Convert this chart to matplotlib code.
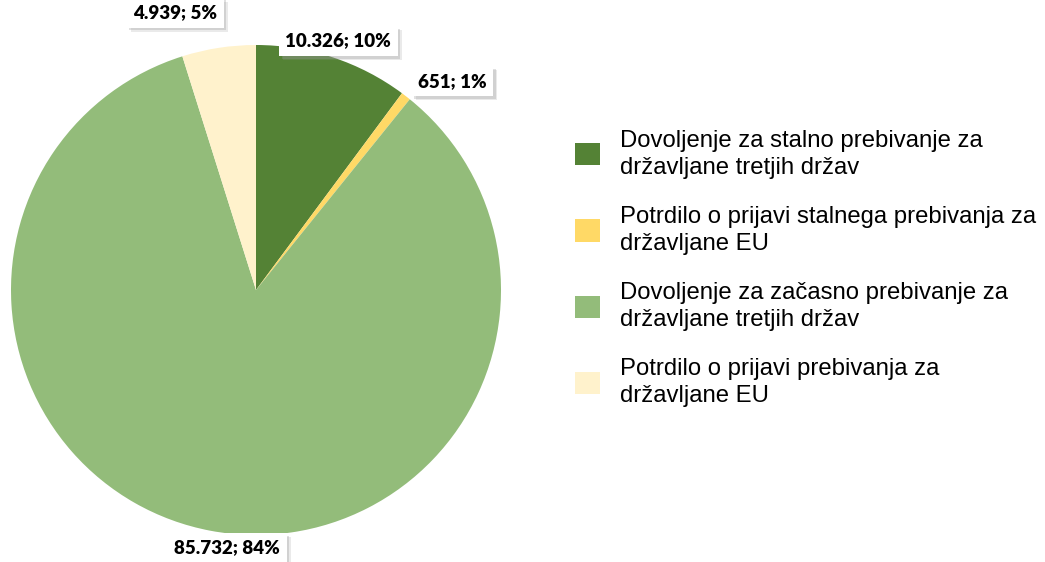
import numpy as np
import matplotlib
matplotlib.use('Agg')
from matplotlib import pyplot as plt
from matplotlib.patches import Patch
import matplotlib.patheffects as pe

####################
# data
####################

categories = ['Dovoljenje za stalno prebivanje za\ndržavljane tretjih držav',
              'Potrdilo o prijavi stalnega prebivanja za\ndržavljane EU',
              'Dovoljenje za začasno prebivanje za\ndržavljane tretjih držav',
              'Potrdilo o prijavi prebivanja za\ndržavljane EU']
values = [10326, 651, 85732, 4939]
colors = ['#548235', '#FFD966', '#93BC7A', '#FFF2CC']

# label placement tweaks (radius factor, angle shift in degrees)
label_radius = [1.07, 1.17, 1.06, 1.18]
label_shift = [0.0, -5.5, 4.3, 7.5]

W, H = 1045, 562
fig = plt.figure(figsize=(W / 100, H / 100), dpi=100)

cx, cy, r = 256, 290, 245
ax = fig.add_axes([(cx - r) / W, (H - cy - r) / H, 2 * r / W, 2 * r / H])

wedges, _ = ax.pie(values, colors=colors, startangle=90, counterclock=False,
                   radius=1, wedgeprops=dict(linewidth=0))
ax.set_xlim(-1, 1)
ax.set_ylim(-1, 1)
ax.set_aspect('equal')
ax.axis('off')

total = float(sum(values))
for i, w in enumerate(wedges):
    mid = (w.theta1 + w.theta2) / 2.0 + label_shift[i]
    x = label_radius[i] * np.cos(np.radians(mid))
    y = label_radius[i] * np.sin(np.radians(mid))
    pct = int(round(values[i] / total * 100))
    txt = '{:,}'.format(values[i]).replace(',', '.') + '; ' + str(pct) + '%'
    t = ax.text(x, y, txt, ha='center', va='center', fontsize=13.5,
                fontweight='heavy', family='Lato', clip_on=False,
                bbox=dict(boxstyle='square,pad=0.35', fc='white', ec='none'))
    t.get_bbox_patch().set_path_effects([
        pe.SimplePatchShadow(offset=(3, -3), shadow_rgbFace='#999999', alpha=0.2),
        pe.SimplePatchShadow(offset=(2, -2), shadow_rgbFace='#999999', alpha=0.3),
        pe.Normal()])

handles = [Patch(facecolor=c, edgecolor='none') for c in colors]
leg = fig.legend(handles, categories, loc='upper left',
                 bbox_to_anchor=(553 / W, 1 - 108 / H), frameon=False,
                 prop={'family': 'Liberation Sans', 'size': 17.2},
                 handlelength=1.05, handleheight=1.05, handletextpad=0.85,
                 labelspacing=1.13)
for t in leg.get_texts():
    t.set_linespacing(1.3)

fig.savefig('out.png', dpi=100)
